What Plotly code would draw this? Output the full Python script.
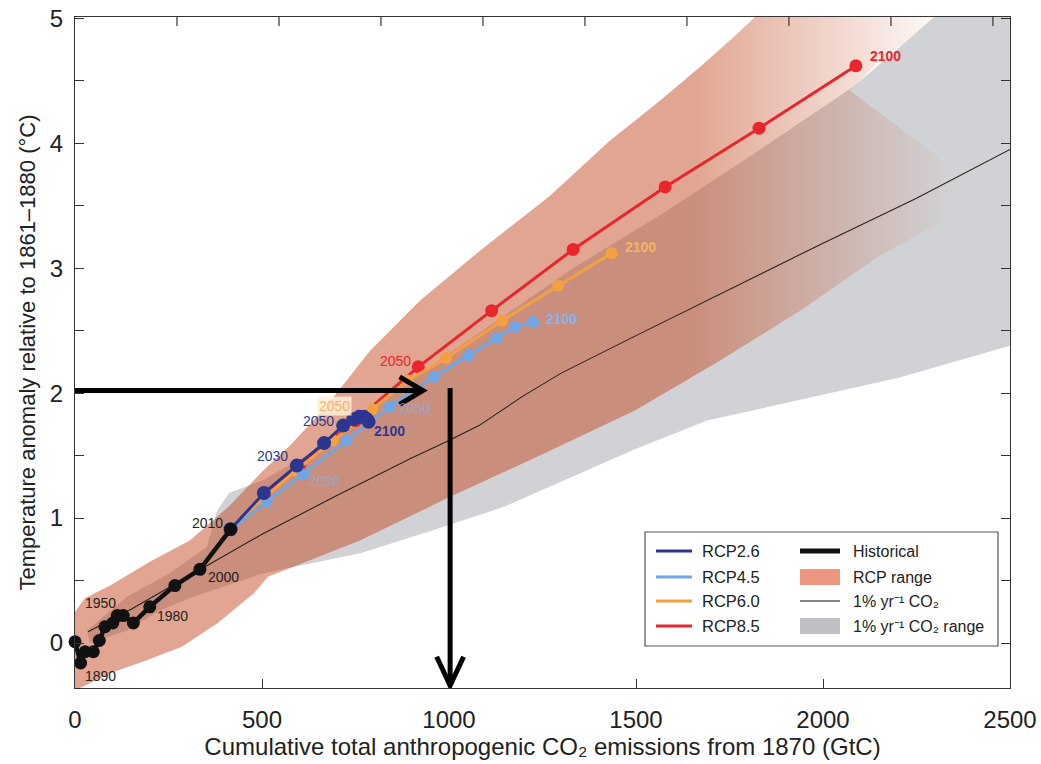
import plotly.graph_objects as go

FONT = "Liberation Sans, Arial, sans-serif"

# ---------------- data (GtC, degC) ----------------
hist_years = [1880, 1890, 1900, 1910, 1920, 1930, 1940, 1950, 1960, 1970, 1980, 1990, 2000, 2010]
hist_x = [0, 15, 27, 49, 65, 80, 101, 113, 129, 156, 200, 267, 334, 416]
hist_y = [0.01, -0.16, -0.07, -0.07, 0.02, 0.13, 0.16, 0.22, 0.22, 0.16, 0.29, 0.46, 0.59, 0.91]

rcp_years = [2010, 2020, 2030, 2040, 2050, 2060, 2070, 2080, 2090, 2100]
rcp26_x = [416, 505, 593, 666, 717, 744, 760, 772, 781, 785]
rcp26_y = [0.91, 1.20, 1.42, 1.60, 1.74, 1.79, 1.81, 1.81, 1.79, 1.77]
rcp45_x = [416, 512, 610, 726, 842, 960, 1052, 1127, 1176, 1225]
rcp45_y = [0.91, 1.13, 1.35, 1.62, 1.89, 2.13, 2.30, 2.44, 2.53, 2.57]
rcp60_x = [416, 500, 590, 690, 795, 890, 992, 1142, 1292, 1435]
rcp60_y = [0.91, 1.15, 1.38, 1.62, 1.87, 2.10, 2.28, 2.58, 2.86, 3.12]
rcp85_x = [416, 505, 600, 750, 918, 1114, 1332, 1578, 1829, 2088]
rcp85_y = [0.91, 1.17, 1.42, 1.78, 2.21, 2.66, 3.15, 3.65, 4.12, 4.62]

pct_x = [35, 150, 342, 500, 700, 900, 1000, 1080, 1200, 1300, 1500, 1750, 2000, 2250, 2500]
pct_y = [0.09, 0.27, 0.60, 0.87, 1.18, 1.48, 1.62, 1.74, 1.98, 2.16, 2.46, 2.83, 3.20, 3.56, 3.95]

# 1% yr-1 CO2 range outline (upper edge left->right, then lower edge right->left)
pct_rng_x = [32, 139, 254, 353, 380, 412, 500, 650, 800, 918, 1114, 1332, 1578, 1832, 2080, 2294, 2340, 2600,
             2600, 2500, 2200, 1690, 1497, 1147, 955, 765, 572, 495, 406, 316, 227, 139, 40]
pct_rng_y = [0.10, 0.37, 0.56, 0.77, 1.06, 1.20, 1.30, 1.55, 1.90, 2.15, 2.55, 3.00, 3.45, 3.95, 4.45, 5.00, 5.10, 5.10,
             2.45, 2.38, 2.12, 1.78, 1.55, 1.09, 0.90, 0.72, 0.60, 0.55, 0.46, 0.37, 0.26, 0.10, 0.00]

# RCP range outline
rcp_rng_x = [0, 27, 94, 200, 307, 414, 500, 575, 668, 789, 922, 1083, 1270, 1430, 1564, 1671, 1765, 1818, 1850, 2300,
             2300, 2152, 2072, 2447, 2152, 1939, 1725, 1497, 1243, 1003, 762, 516, 479, 382, 286, 190, 96, 0]
rcp_rng_y = [0.25, 0.36, 0.46, 0.65, 0.82, 1.10, 1.37, 1.58, 1.88, 2.34, 2.74, 3.14, 3.58, 4.02, 4.34, 4.61, 4.86, 5.01, 5.10, 5.10,
             5.00, 4.66, 4.42, 3.58, 3.10, 2.66, 2.26, 1.86, 1.50, 1.17, 0.82, 0.53, 0.40, 0.16, -0.03, -0.14, -0.24, -0.38]

# year labels: (text, x, y, colour, bold)
year_labels = [
    ("1890", 67, -0.26, "#222222", False),
    ("1950", 67, 0.32, "#222222", False),
    ("1980", 262, 0.22, "#222222", False),
    ("2000", 396, 0.53, "#222222", False),
    ("2010", 353, 0.96, "#222222", False),
    ("2030", 527, 1.50, "#2e3a8c", False),
    ("2050", 650, 1.78, "#2e3a8c", False),
    ("2100", 842, 1.70, "#2e3a8c", True),
    ("2030", 668, 1.30, "rgba(140,170,230,0.75)", False),
    ("2050", 909, 1.88, "rgba(140,170,230,0.75)", False),
    ("2100", 1302, 2.59, "#86b4ea", True),
    ("2100", 1511, 3.17, "#f2b468", True),
    ("2050", 856, 2.26, "#e8262c", False),
    ("2100", 2166, 4.70, "#e8262c", True),
]
rcp60_2050_label = ("2050", 695, 1.90)

# arrows (data coords)
h_arrow_y = 2.02
h_arrow_x = [0, 930]
v_arrow_x = 1003
v_arrow_y = [2.04, -0.34]

x_ticks = [0, 500, 1000, 1500, 2000, 2500]
y_ticks = [0, 1, 2, 3, 4, 5]
y_minor_ticks = [0.5, 1.5, 2.5, 3.5, 4.5]
top_ticks_gtco2 = [1000, 2000, 3000, 4000, 5000, 6000, 7000, 8000, 9000]

legend_col1 = ["RCP2.6", "RCP4.5", "RCP6.0", "RCP8.5"]
legend_col2 = ["Historical", "RCP range", "1% yr⁻¹ CO₂", "1% yr⁻¹ CO₂ range"]

C26 = "#2b3690"
C45 = "#6fa6e4"
C60 = "#f5a040"
C85 = "#e8262c"

fig = go.Figure()

fig.add_trace(go.Scatter(x=pct_rng_x, y=pct_rng_y, fill="toself", mode="lines", line=dict(width=0),
                         fillcolor="rgb(209,210,213)", hoverinfo="skip", showlegend=False))
fig.add_trace(go.Scatter(x=rcp_rng_x, y=rcp_rng_y, fill="toself", mode="lines", line=dict(width=0),
                         fillcolor="rgba(195,75,35,0.5)",
                         fillgradient=dict(type="horizontal", start=1650, stop=2350,
                                           colorscale=[[0, "rgba(195,75,35,0.5)"], [1, "rgba(195,75,35,0)"]]),
                         hoverinfo="skip", showlegend=False))
fig.add_trace(go.Scatter(x=pct_x, y=pct_y, mode="lines", line=dict(color="#2a2220", width=1.1),
                         hoverinfo="skip", showlegend=False))

for xs, ys, col, ms in [(rcp85_x, rcp85_y, C85, 13), (rcp60_x, rcp60_y, C60, 12),
                        (rcp45_x, rcp45_y, C45, 12), (rcp26_x, rcp26_y, C26, 14)]:
    fig.add_trace(go.Scatter(x=xs, y=ys, mode="lines+markers", line=dict(color=col, width=3),
                             marker=dict(color=col, size=ms), showlegend=False, cliponaxis=False,
                             customdata=rcp_years))
fig.add_trace(go.Scatter(x=hist_x, y=hist_y, mode="lines+markers", line=dict(color="#111111", width=4.5),
                         marker=dict(color="#111111", size=13), showlegend=False, cliponaxis=False,
                         customdata=hist_years))

shapes = []
# top axis ticks (1000 GtCO2 steps expressed in GtC)
for v in top_ticks_gtco2:
    shapes.append(dict(type="line", xref="x", yref="paper", x0=v / 3.667, x1=v / 3.667, y0=1, y1=1 - 9 / 671,
                       line=dict(color="#333", width=1.2), layer="above"))
# arrows
shapes.append(dict(type="line", xref="x", yref="y", x0=h_arrow_x[0], x1=h_arrow_x[1], y0=h_arrow_y, y1=h_arrow_y,
                   line=dict(color="black", width=5), layer="above"))
shapes.append(dict(type="path", xref="x", yref="y",
                   path=f"M {h_arrow_x[1]-62},{h_arrow_y+0.11} L {h_arrow_x[1]},{h_arrow_y} L {h_arrow_x[1]-62},{h_arrow_y-0.11}",
                   line=dict(color="black", width=5), layer="above"))
shapes.append(dict(type="line", xref="x", yref="y", x0=v_arrow_x, x1=v_arrow_x, y0=v_arrow_y[0], y1=v_arrow_y[1],
                   line=dict(color="black", width=5), layer="above"))
shapes.append(dict(type="path", xref="x", yref="y",
                   path=f"M {v_arrow_x-36},{v_arrow_y[1]+0.23} L {v_arrow_x},{v_arrow_y[1]} L {v_arrow_x+36},{v_arrow_y[1]+0.23}",
                   line=dict(color="black", width=5), layer="above"))

# ---------------- legend (drawn manually, paper coords from pixels) ----------------
L, R, T, B = 75, 1010, 17, 688
def px(xp):
    return (xp - L) / (R - L)
def py(yp):
    return (B - yp) / (B - T)

shapes.append(dict(type="rect", xref="paper", yref="paper", x0=px(645), x1=px(998), y0=py(646), y1=py(532),
                   line=dict(color="#555555", width=1.2), fillcolor="white", layer="above"))
rows = [551, 577, 601, 626]
annotations = []
for name, col, yy in zip(legend_col1, [C26, C45, C60, C85], rows):
    shapes.append(dict(type="line", xref="paper", yref="paper", x0=px(656), x1=px(692), y0=py(yy), y1=py(yy),
                       line=dict(color=col, width=3), layer="above"))
    annotations.append(dict(text=name, xref="paper", yref="paper", x=px(700), y=py(yy), xanchor="left",
                            yanchor="middle", showarrow=False, font=dict(family=FONT, size=16.5, color="#222")))
shapes.append(dict(type="line", xref="paper", yref="paper", x0=px(800), x1=px(840), y0=py(rows[0]), y1=py(rows[0]),
                   line=dict(color="#111", width=5), layer="above"))
shapes.append(dict(type="rect", xref="paper", yref="paper", x0=px(800), x1=px(840), y0=py(rows[1] + 8), y1=py(rows[1] - 8),
                   line=dict(width=0), fillcolor="rgb(236,150,128)", layer="above"))
shapes.append(dict(type="line", xref="paper", yref="paper", x0=px(800), x1=px(840), y0=py(rows[2]), y1=py(rows[2]),
                   line=dict(color="#111", width=1.2), layer="above"))
shapes.append(dict(type="rect", xref="paper", yref="paper", x0=px(800), x1=px(840), y0=py(rows[3] + 8), y1=py(rows[3] - 8),
                   line=dict(width=0), fillcolor="rgb(192,192,196)", layer="above"))
for name, yy in zip(legend_col2, rows):
    annotations.append(dict(text=name, xref="paper", yref="paper", x=px(851), y=py(yy), xanchor="left",
                            yanchor="middle", showarrow=False, font=dict(family=FONT, size=16, color="#222")))

for txt, xx, yy, col, bold in year_labels:
    annotations.append(dict(text=f"<b>{txt}</b>" if bold else txt, x=xx, y=yy, xref="x", yref="y",
                            showarrow=False, font=dict(family=FONT, size=14, color=col)))
annotations.append(dict(text=rcp60_2050_label[0], x=rcp60_2050_label[1], y=rcp60_2050_label[2], xref="x", yref="y",
                        showarrow=False, bgcolor="rgba(255,238,215,0.85)", borderpad=1,
                        font=dict(family=FONT, size=14, color="#f5b46a")))

fig.update_layout(
    width=1041, height=764,
    margin=dict(l=L, r=1041 - R, t=T, b=764 - B, autoexpand=False),
    paper_bgcolor="white", plot_bgcolor="white",
    font=dict(family=FONT, color="#222"),
    showlegend=False,
    shapes=shapes, annotations=annotations,
    xaxis=dict(range=[0, 2500], tickvals=x_ticks, ticks="inside", ticklen=9, tickcolor="#333",
               showline=True, linecolor="#333", linewidth=1.2, mirror=True, showgrid=False, zeroline=False,
               automargin=False,
               tickfont=dict(family=FONT, size=24, color="#222"), ticklabelstandoff=10,
               title=dict(text="Cumulative total anthropogenic CO₂ emissions from 1870 (GtC)",
                          font=dict(family=FONT, size=24, color="#222"), standoff=6)),
    yaxis=dict(range=[-0.36, 5.01], tickvals=y_ticks, ticks="inside", ticklen=9,
               tickcolor="#333", showline=True, linecolor="#333", linewidth=1.2, mirror="allticks",
               minor=dict(ticks="inside", ticklen=9, tickcolor="#333", tickvals=y_minor_ticks),
               showgrid=False, zeroline=False, automargin=False,
               tickfont=dict(family=FONT, size=24, color="#222"),
               ticklabelstandoff=6,
               title=dict(text="Temperature anomaly relative to 1861–1880 (°C)",
                          font=dict(family=FONT, size=22, color="#222"), standoff=8)),
)

fig.write_html("out.html")
